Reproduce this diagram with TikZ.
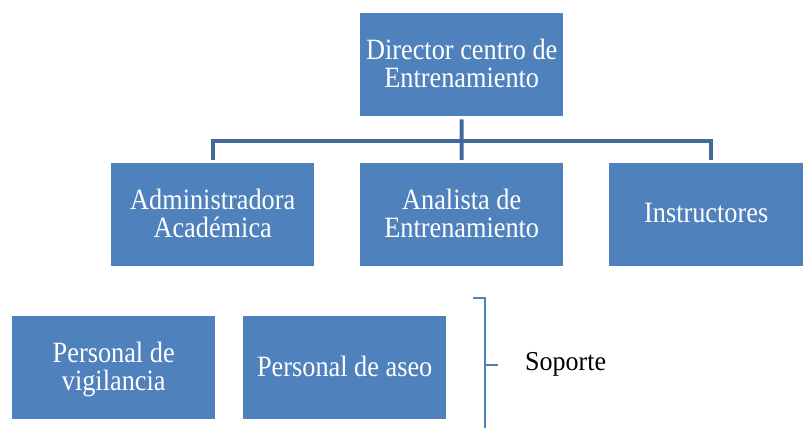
\documentclass[tikz,border=0pt]{standalone}
\usepackage{fontspec}
\usepackage{graphicx}
\setmainfont{Liberation Serif}
\definecolor{boxblue}{HTML}{4F81BD}
\definecolor{connblue}{HTML}{41699B}
\newcommand{\talltext}[1]{\raisebox{0pt}[\dimexpr\height+5pt\relax]{\scalebox{1}[1.12]{\begin{tabular}{@{}c@{}}#1\end{tabular}}}}
\begin{document}
\begin{tikzpicture}[x=1pt,y=-1pt,
  orgbox/.style={fill=boxblue,draw=none,text=white,inner sep=0pt,align=center,
    minimum width=203pt,minimum height=103pt,anchor=north west,
    font=\fontsize{26.3}{24}\selectfont},
  conn/.style={draw=connblue,line width=4pt},
  bracketline/.style={draw=boxblue,line width=1.5pt}]
\useasboundingbox (0,0) rectangle (803,428);
\node[orgbox] (dir) at (360,13) {\talltext{Director centro de\\Entrenamiento}};
\node[orgbox] (adm) at (111,163) {\talltext{Administradora\\Académica}};
\node[orgbox] (ana) at (360,163) {\talltext{Analista de\\Entrenamiento}};
\node[orgbox,minimum width=194pt] (ins) at (609,163) {\talltext{Instructores}};
\node[orgbox] (vig) at (12,316) {\talltext{Personal de\\vigilancia}};
\node[orgbox] (ase) at (243,316) {\talltext{Personal de aseo}};
\coordinate (bus) at (461.5,140.5);
\coordinate (insdrop) at (711,160);
\draw[conn] ([yshift=-3pt]dir.south) -- (bus);
\draw[conn] ([yshift=3pt]adm.north) |- (bus) -| (insdrop);
\draw[conn] (bus) -- ([yshift=3pt]ana.north);
\coordinate (btop) at (473,298);
\coordinate (bbot) at (485,430);
\coordinate (bmid) at (485,365);
\coordinate (btip) at (498,365);
\draw[bracketline] (btop) -| (bbot);
\draw[bracketline] (bmid) -- (btip);
\node[anchor=base west,inner sep=0pt,font=\fontsize{26}{27}\selectfont] (sop) at (525,370) {\scalebox{1}[1.05]{Soporte}};
\end{tikzpicture}
\end{document}
